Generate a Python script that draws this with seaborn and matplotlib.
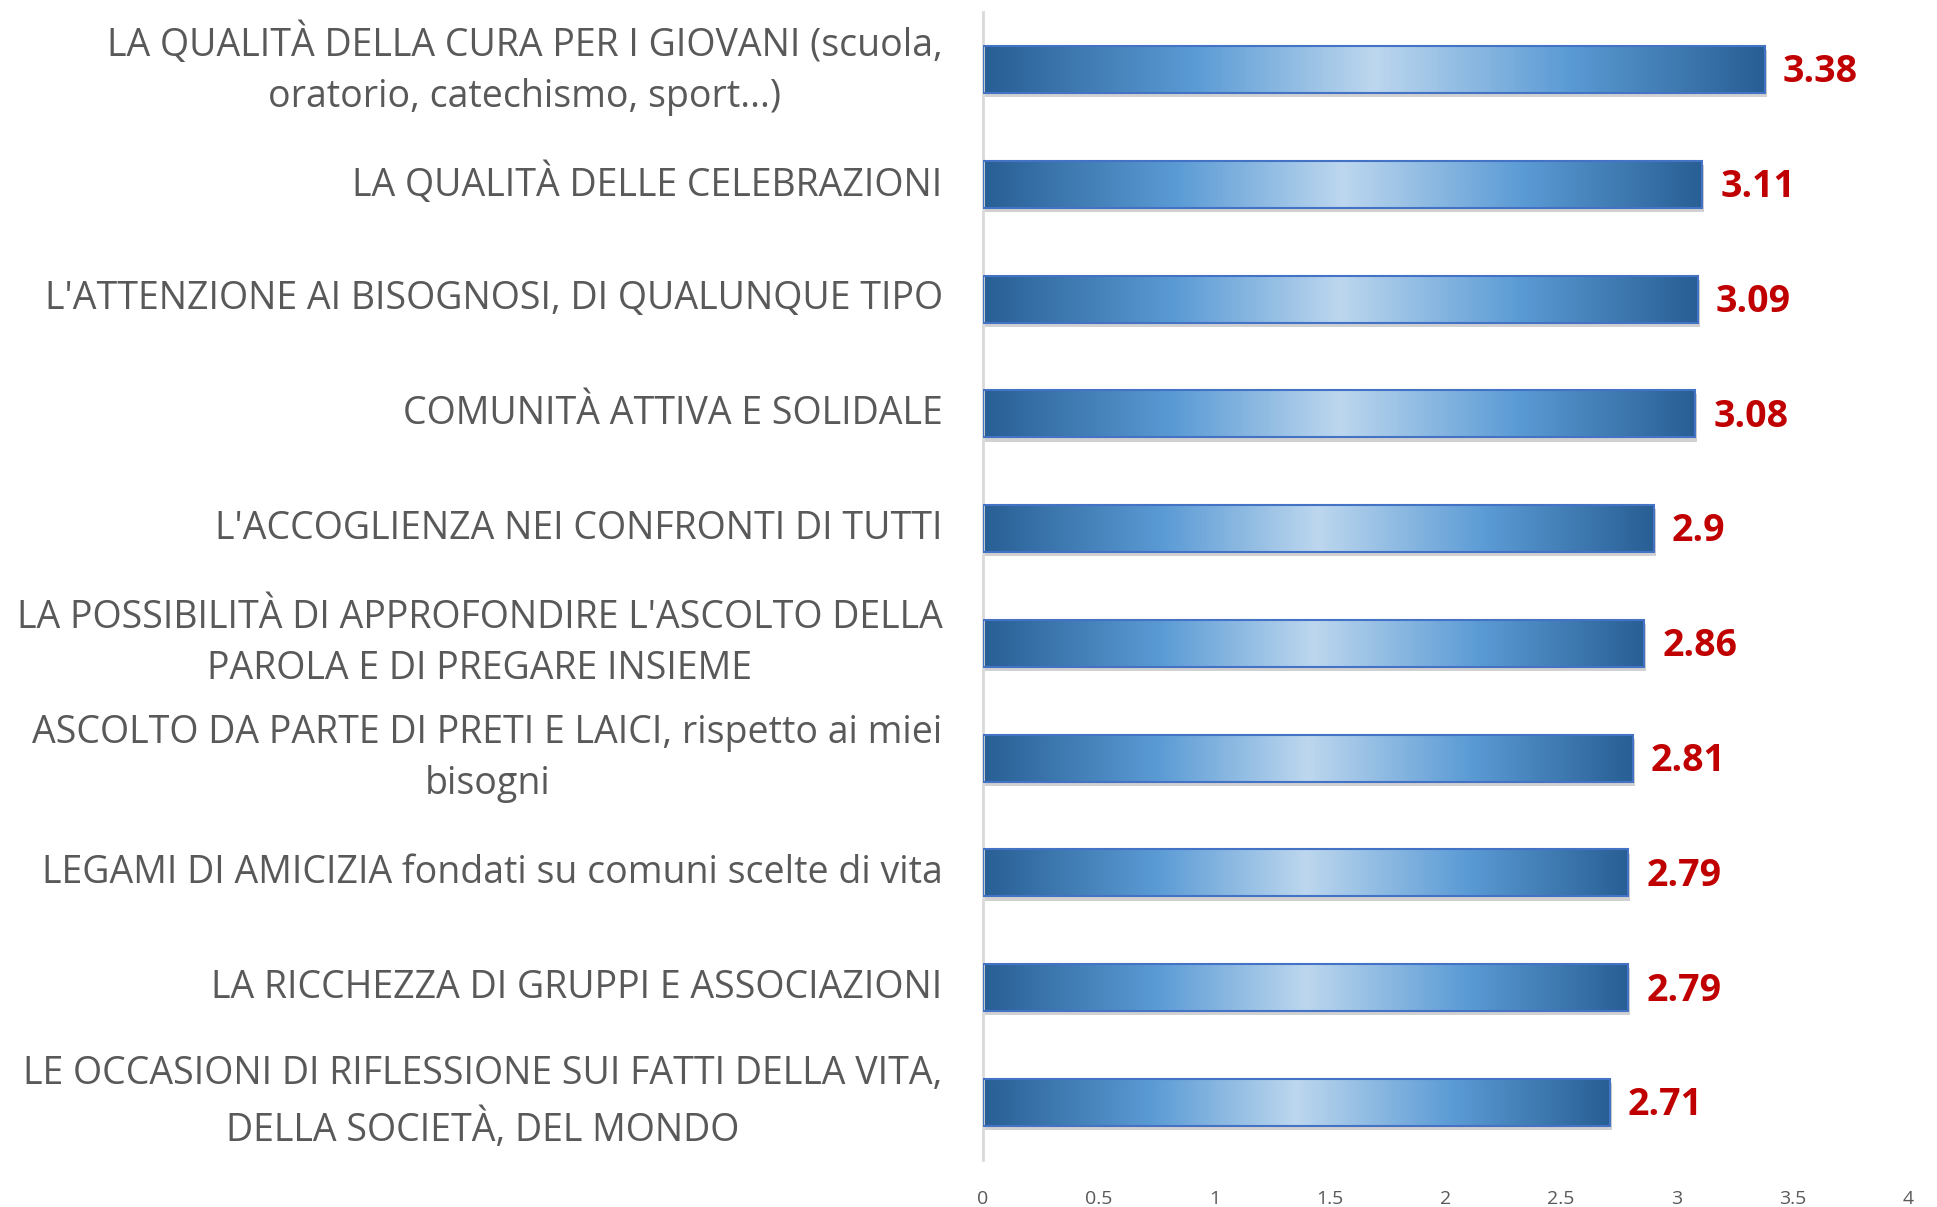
import numpy as np
import pandas as pd
import seaborn as sns
import matplotlib.pyplot as plt
import matplotlib.transforms as mtransforms
from matplotlib.colors import LinearSegmentedColormap
from matplotlib.patches import Rectangle

# Data (top to bottom as in the chart)
labels = [
    "LA QUALITÀ DELLA CURA PER I GIOVANI (scuola,\noratorio, catechismo, sport...)",
    "LA QUALITÀ DELLE CELEBRAZIONI",
    "L'ATTENZIONE AI BISOGNOSI, DI QUALUNQUE TIPO",
    "COMUNITÀ ATTIVA E SOLIDALE",
    "L'ACCOGLIENZA NEI CONFRONTI DI TUTTI",
    "LA POSSIBILITÀ DI APPROFONDIRE L'ASCOLTO DELLA\nPAROLA E DI PREGARE INSIEME",
    "ASCOLTO DA PARTE DI PRETI E LAICI, rispetto ai miei\nbisogni",
    "LEGAMI DI AMICIZIA fondati su comuni scelte di vita",
    "LA RICCHEZZA DI GRUPPI E ASSOCIAZIONI",
    "LE OCCASIONI DI RIFLESSIONE SUI FATTI DELLA VITA,\nDELLA SOCIETÀ, DEL MONDO",
]
values = [3.38, 3.11, 3.09, 3.08, 2.9, 2.86, 2.81, 2.79, 2.79, 2.71]
value_text = ["3.38", "3.11", "3.09", "3.08", "2.9", "2.86", "2.81", "2.79", "2.79", "2.71"]
xticks = [0, 0.5, 1, 1.5, 2, 2.5, 3, 3.5, 4]

df = pd.DataFrame({"label": labels, "value": values})

sns.set_style("white")
plt.rcParams["font.family"] = ["Open Sans", "DejaVu Sans"]

fig = plt.figure(figsize=(19.37, 12.07), dpi=100)
ax = fig.add_axes([0.5075, 0.039, 0.4775, 0.951])

sns.barplot(data=df, x="value", y="label", orient="h", width=0.41,
            color="#5b9bd5", ax=ax)

grad = LinearSegmentedColormap.from_list(
    "bar", [(0, "#285f94"), (0.27, "#5b9bd5"), (0.5, "#bdd7ee"),
            (0.75, "#5b9bd5"), (1, "#285f94")])
g = np.linspace(0, 1, 256).reshape(1, -1)

shadow_tr = mtransforms.offset_copy(ax.transData, fig=fig, x=1.5, y=-3, units="points")
for p, txt in zip(ax.patches, value_text):
    x0, y0, w, h = p.get_x(), p.get_y(), p.get_width(), p.get_height()
    ax.add_patch(Rectangle((x0, y0), w, h, transform=shadow_tr,
                           facecolor="#000000", alpha=0.18, edgecolor="none", zorder=1))
    im = ax.imshow(g, cmap=grad, aspect="auto", extent=(x0, x0 + w, y0 + h, y0),
                   zorder=2, interpolation="bicubic")
    im.set_clip_path(p)
    p.set_facecolor("none")
    p.set_edgecolor("#4472c4")
    p.set_linewidth(1.5)
    p.set_zorder(3)
    ax.annotate(txt, (x0 + w, y0 + h / 2), xytext=(13, -2), textcoords="offset points",
                ha="left", va="center", color="#c00000", fontsize=27, fontweight="bold")

ax.set_xlim(0, 4)
ax.set_ylim(9.5, -0.5)
ax.set_xticks(xticks)
ax.set_xticklabels([f"{t:g}" for t in xticks], color="#595959", fontsize=14)
ax.set_yticks(range(len(labels)))
ax.set_yticklabels(labels, color="#595959", fontsize=27, linespacing=1.45)
ax.set_xlabel("")
ax.set_ylabel("")
ax.tick_params(axis="y", length=0, pad=29)
ax.tick_params(axis="x", length=0, pad=22)

for s in ["top", "right", "bottom"]:
    ax.spines[s].set_visible(False)
ax.spines["left"].set_color("#d9d9d9")
ax.spines["left"].set_linewidth(2)

for t in ax.get_yticklabels():
    t.set_multialignment("center")
    t.set_verticalalignment("center")

plt.savefig("out.png", dpi=100)
